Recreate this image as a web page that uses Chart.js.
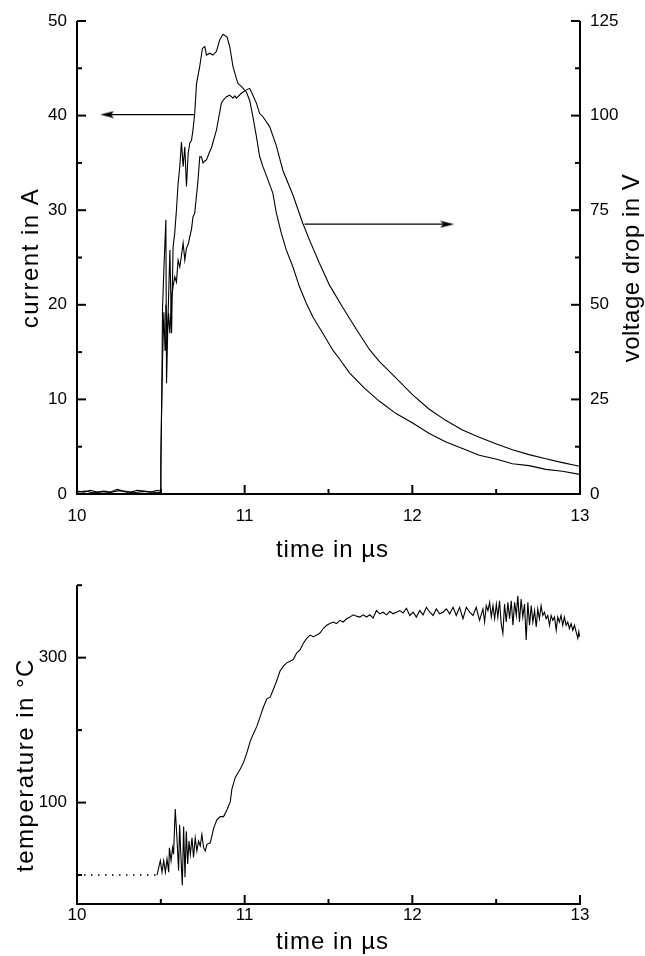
<!DOCTYPE html>
<html>
<head>
<meta charset="utf-8">
<script src="https://cdn.jsdelivr.net/npm/chart.js@4.4.0/dist/chart.umd.min.js"></script>
<style>
  body { margin: 0; background: #fff; }
  #top { position: absolute; left: 0; top: 0; }
  #bottom { position: absolute; left: 0; top: 565px; }
</style>
</head>
<body>
<canvas id="top" width="645" height="565"></canvas>
<canvas id="bottom" width="645" height="391"></canvas>
<script>
// current in A (left axis)
var currentTime = [10.000, 10.040, 10.080, 10.120, 10.160, 10.200, 10.240, 10.280, 10.320, 10.360, 10.400, 10.440, 10.480, 10.497,
  10.500, 10.506, 10.510, 10.518, 10.530, 10.534, 10.543, 10.554, 10.564, 10.573, 10.583, 10.593, 10.603, 10.613, 10.623,
  10.633, 10.643, 10.653, 10.663, 10.673, 10.683, 10.692, 10.702, 10.713, 10.732, 10.748, 10.762, 10.772, 10.792, 10.811,
  10.832, 10.851, 10.871, 10.895, 10.911, 10.921, 10.930, 10.951, 10.960, 10.980, 11.010, 11.030, 11.049, 11.070, 11.089,
  11.109, 11.139, 11.168, 11.189, 11.218, 11.248, 11.288, 11.327, 11.367, 11.407, 11.466, 11.526, 11.565, 11.625, 11.714,
  11.804, 11.903, 12.002, 12.101, 12.201, 12.299, 12.399, 12.498, 12.597, 12.696, 12.796, 12.895, 12.990, 13.000];
var currentValue = [0.3, 0.2, 0.4, 0.2, 0.3, 0.2, 0.5, 0.3, 0.2, 0.4, 0.3, 0.2, 0.4, 0.3,
  3.6, 11.0, 19.5, 23.7, 29.0, 11.7, 18.7, 25.8, 17.0, 26.1, 27.6, 30.0, 32.8, 34.6, 37.2,
  34.6, 36.7, 32.5, 36.0, 37.1, 37.4, 38.5, 40.2, 43.4, 45.2, 47.1, 47.3, 46.4, 46.6, 46.4,
  46.8, 48.0, 48.6, 48.3, 47.3, 46.2, 45.2, 43.9, 43.4, 43.1, 42.5, 41.6, 39.9, 37.8, 35.7,
  34.6, 33.2, 31.8, 29.7, 27.6, 25.8, 24.0, 21.9, 20.2, 18.7, 17.0, 15.2, 14.3, 12.8, 11.2,
  9.8, 8.5, 7.5, 6.4, 5.5, 4.8, 4.1, 3.7, 3.2, 3.0, 2.6, 2.4, 2.1, 2.1];

// voltage drop in V (right axis)
var voltageTime = [10.000, 10.050, 10.100, 10.150, 10.200, 10.250, 10.300, 10.350, 10.400, 10.450, 10.497,
  10.500, 10.504, 10.510, 10.518, 10.525, 10.530, 10.538, 10.546, 10.554, 10.564, 10.573, 10.583, 10.593, 10.603,
  10.613, 10.623, 10.633, 10.643, 10.653, 10.663, 10.673, 10.683, 10.692, 10.702, 10.713, 10.722, 10.732, 10.742,
  10.752, 10.762, 10.772, 10.792, 10.802, 10.832, 10.861, 10.871, 10.891, 10.911, 10.930, 10.941, 10.951, 10.980,
  11.010, 11.030, 11.049, 11.070, 11.089, 11.109, 11.149, 11.189, 11.228, 11.288, 11.347, 11.387, 11.446, 11.506,
  11.585, 11.665, 11.744, 11.804, 11.903, 12.002, 12.101, 12.201, 12.299, 12.399, 12.498, 12.597, 12.696, 12.796,
  12.895, 12.990, 13.000];
var voltageValue = [0.5, 0.8, 0.3, 0.6, 0.4, 0.9, 0.5, 0.4, 0.7, 0.5, 0.4,
  5, 20, 35, 48, 38, 50, 42, 47.8, 42.5, 52, 54.8, 57.4, 56, 61.8,
  60, 63, 66.3, 61.8, 65, 66, 68, 70, 73.3, 74.2, 79, 83, 89.1, 89.1,
  87.5, 88.0, 88.3, 90.5, 91.5, 96.2, 103.3, 104, 105, 105.4, 104.6, 105.2, 104.6, 105.9,
  106.8, 107.2, 105.4, 103.3, 100.6, 99.7, 97.1, 92.0, 85.5, 79.0, 71.5, 67.1, 61.0, 55.2,
  49.3, 43.6, 38.2, 35.0, 30.6, 26.2, 22.4, 19.4, 16.9, 15.0, 13.3, 11.7, 10.4, 9.3,
  8.3, 7.4, 7.3];

// temperature in °C
var tempBaseTime = [10.0, 10.477];
var tempBaseValue = [0, 0];
var tempTime = [10.477, 10.487, 10.497, 10.507, 10.517, 10.527, 10.537, 10.547, 10.551, 10.561, 10.570, 10.576, 10.586,
  10.596, 10.606, 10.612, 10.620, 10.628, 10.636, 10.644, 10.652, 10.660, 10.668, 10.676, 10.686, 10.695, 10.705,
  10.715, 10.725, 10.735, 10.745, 10.755, 10.765, 10.775, 10.795, 10.815, 10.834, 10.854, 10.874, 10.894, 10.914,
  10.924, 10.944, 10.973, 10.993, 11.013, 11.033, 11.053, 11.072, 11.092, 11.112, 11.132, 11.152, 11.172, 11.191,
  11.211, 11.231, 11.251, 11.271, 11.290, 11.310, 11.330, 11.350, 11.370, 11.390, 11.410, 11.430, 11.449,
  11.469, 11.489, 11.509, 11.528, 11.548, 11.568, 11.588, 11.608, 11.628, 11.647, 11.667, 11.687, 11.707, 11.727,
  11.747, 11.766, 11.786, 11.806, 11.826, 11.846, 11.866, 11.885, 11.905, 11.925, 11.945, 11.965, 11.985, 12.005,
  12.024, 12.044, 12.064, 12.084, 12.104, 12.124, 12.143, 12.163, 12.183, 12.203, 12.223, 12.243, 12.262, 12.282,
  12.302, 12.322, 12.342, 12.362, 12.381, 12.401, 12.421, 12.431, 12.441, 12.451, 12.461, 12.471, 12.481, 12.491,
  12.501, 12.510, 12.520, 12.530, 12.540, 12.550, 12.560, 12.570, 12.580, 12.590, 12.600, 12.610, 12.620, 12.629,
  12.639, 12.649, 12.659, 12.669, 12.679, 12.689, 12.699, 12.709, 12.719, 12.729, 12.739, 12.748, 12.758, 12.768,
  12.778, 12.788, 12.798, 12.808, 12.818, 12.828, 12.838, 12.848, 12.858, 12.867, 12.877, 12.887, 12.897, 12.907,
  12.917, 12.927, 12.937, 12.947, 12.957, 12.967, 12.977, 12.987, 12.993, 12.997];
var tempValue = [0, 10, 19.7, 3.9, 19.7, 3.9, 21.9, 3.9, 37.7, 19.7, 37.7, 28.7, 91.0,
  51.3, 6.1, 69.3, 24.2, -14.2, 67.1, -2.9, 60.3, 15.2, 46.8, 28.7, 51.3, 24.2, 51.3,
  33.2, 46.8, 40.0, 55.8, 37.7, 33.2, 42.3, 44.5, 64.8, 76.1, 80.6, 80.6, 89.7, 100.9,
  119.0, 134.8, 146.1, 155.1, 168.6, 184.4, 195.7, 204.8, 218.3, 231.8, 243.1, 245.4, 256.7, 268.0,
  281.5, 288.3, 292.8, 295.0, 297.3, 306.3, 310.8, 319.9, 326.6, 331.1, 328.9, 331.1, 334.0,
  340.2, 344.7, 347.0, 349.2, 347.0, 351.5, 349.2, 353.7, 356.0, 359.1, 357.3, 356.0, 359.1, 356.0,
  359.1, 354.6, 365.0, 360.5, 362.7, 359.1, 363.6, 360.5, 362.7, 365.0, 361.8, 368.2, 358.2, 362.7,
  356.0, 365.0, 359.1, 369.5, 362.7, 358.2, 367.3, 360.5, 362.7, 367.3, 360.5, 369.5, 358.2, 369.5,
  353.7, 369.5, 362.7, 358.2, 369.5, 351.5, 367.3, 349.2, 371.8, 365.0, 376.3, 356.0, 371.8, 353.7,
  374.0, 356.0, 378.5, 347.0, 333.4, 374.0, 349.2, 376.3, 353.7, 378.5, 344.7, 376.3, 358.2, 385.3,
  349.2, 380.8, 356.0, 374.0, 324.4, 376.3, 344.7, 371.8, 349.2, 365.0, 342.4, 367.3, 353.7, 371.8,
  358.2, 362.7, 353.7, 358.2, 344.7, 358.2, 351.5, 356.0, 337.9, 356.0, 349.2, 358.2, 344.7, 356.0,
  344.7, 349.2, 340.2, 347.0, 337.9, 344.7, 335.6, 326.6, 335.6, 328.9];

// axis ticks
var timeTicks = [10, 11, 12, 13];
var timeMinor = [10.5, 11.5, 12.5];
var currentTicks = [0, 10, 20, 30, 40, 50];
var currentMinor = [5, 15, 25, 35, 45];
var voltageTicks = [0, 25, 50, 75, 100, 125];
var voltageMinor = [12.5, 37.5, 62.5, 87.5, 112.5];
var tempTicks = [100, 300];
var tempMinor = [0, 200, 400];

// arrows pointing from the curves to their axes
var arrowCurrentTime = [10.702, 10.179];
var arrowCurrentValue = [40.1, 40.1];
var arrowVoltageTime = [11.357, 12.208];
var arrowVoltageValue = [71.3, 71.3];

var font = "'Liberation Sans', Arial, sans-serif";

function pts(xs, ys) {
  return xs.map(function (x, i) { return { x: x, y: ys[i] }; });
}

function arrowHead() {
  var c = document.createElement("canvas");
  c.width = 14; c.height = 8;
  var g = c.getContext("2d");
  g.fillStyle = "#000";
  g.beginPath();
  g.moveTo(14, 4); g.lineTo(0, 0.5); g.lineTo(3, 4); g.lineTo(0, 7.5);
  g.closePath();
  g.fill();
  return c;
}
var head = arrowHead();

function frame(axes) {
  return {
    id: "frame",
    afterDraw: function (chart) {
      var ctx = chart.ctx, a = chart.chartArea;
      ctx.save();
      ctx.strokeStyle = "#000";
      ctx.lineWidth = 2;
      axes.forEach(function (ax) {
        var s = chart.scales[ax.id];
        ctx.beginPath();
        if (ax.side === "bottom") { ctx.moveTo(a.left - 1, a.bottom); ctx.lineTo(a.right + 1, a.bottom); }
        else {
          var x0 = ax.side === "left" ? a.left : a.right;
          ctx.moveTo(x0, a.top); ctx.lineTo(x0, a.bottom + 1);
        }
        ctx.stroke();
        [[ax.major, 9], [ax.minor, 5]].forEach(function (m) {
          m[0].forEach(function (v) {
            var p = s.getPixelForValue(v);
            ctx.beginPath();
            if (ax.side === "bottom") { ctx.moveTo(p, a.bottom); ctx.lineTo(p, a.bottom - m[1]); }
            else if (ax.side === "left") { ctx.moveTo(a.left, p); ctx.lineTo(a.left + m[1], p); }
            else { ctx.moveTo(a.right, p); ctx.lineTo(a.right - m[1], p); }
            ctx.stroke();
          });
        });
      });
      ctx.restore();
    }
  };
}

// axis titles, drawn with a little letter spacing like the original
function titles(list) {
  return {
    id: "titles",
    afterDraw: function (chart) {
      var ctx = chart.ctx, a = chart.chartArea;
      list.forEach(function (t) {
        ctx.save();
        ctx.font = "24px " + font;
        ctx.fillStyle = "#000";
        ctx.letterSpacing = (t.spacing || 1.5) + "px";
        ctx.textAlign = "center";
        ctx.textBaseline = "middle";
        var x = t.x === undefined ? (a.left + a.right) / 2 + 4 : t.x;
        ctx.translate(x, t.y);
        if (t.vertical) ctx.rotate(-Math.PI / 2);
        ctx.fillText(t.text, 0, 0);
        ctx.restore();
      });
    }
  };
}

function ticks(pad) {
  return { color: "#000", font: { family: font, size: 17 }, padding: pad, autoSkip: false, maxRotation: 0 };
}
function setTicks(list) {
  return function (s) { s.ticks = list.map(function (v) { return { value: v }; }); };
}
var noGrid = { display: false, drawTicks: false };
var noBorder = { display: false };

function line(data, axis, extra) {
  var ds = { data: data, yAxisID: axis, borderColor: "#000", borderWidth: 1.1, pointRadius: 0, tension: 0, fill: false };
  for (var k in extra) ds[k] = extra[k];
  return ds;
}

new Chart(document.getElementById("top").getContext("2d"), {
  type: "line",
  data: {
    datasets: [
      line(pts(currentTime, currentValue), "y"),
      line(pts(voltageTime, voltageValue), "y1"),
      line(pts(arrowCurrentTime, arrowCurrentValue), "y", { borderWidth: 1.3, pointRadius: [0, 7], pointStyle: head, pointRotation: 180 }),
      line(pts(arrowVoltageTime, arrowVoltageValue), "y1", { borderWidth: 1.3, pointRadius: [0, 7], pointStyle: head })
    ]
  },
  options: {
    responsive: false,
    animation: false,
    layout: { padding: { top: 21, left: 0, right: 0, bottom: 0 } },
    plugins: { legend: { display: false }, tooltip: { enabled: false } },
    scales: {
      x: {
        type: "linear", min: 10, max: 13,
        grid: noGrid, border: noBorder, ticks: ticks(12),
        afterBuildTicks: setTicks(timeTicks),
        afterFit: function (s) { s.height = 71; }
      },
      y: {
        position: "left", min: 0, max: 50,
        grid: noGrid, border: noBorder, ticks: ticks(10),
        afterBuildTicks: setTicks(currentTicks),
        afterFit: function (s) { s.width = 77; }
      },
      y1: {
        position: "right", min: 0, max: 125,
        grid: noGrid, border: noBorder, ticks: ticks(10),
        afterBuildTicks: setTicks(voltageTicks),
        afterFit: function (s) { s.width = 65; }
      }
    }
  },
  plugins: [frame([
    { id: "x", side: "bottom", major: timeTicks, minor: timeMinor },
    { id: "y", side: "left", major: currentTicks, minor: currentMinor },
    { id: "y1", side: "right", major: voltageTicks, minor: voltageMinor }
  ]), titles([
    { text: "time in \u00b5s", y: 550, spacing: 1 },
    { text: "current in A", x: 31, y: 258, vertical: true },
    { text: "voltage drop in V", x: 632, y: 268, vertical: true, spacing: 0.5 }
  ])]
});

new Chart(document.getElementById("bottom").getContext("2d"), {
  type: "line",
  data: {
    datasets: [
      line(pts(tempBaseTime, tempBaseValue), "y", { borderWidth: 1.4, borderDash: [1.5, 5.5] }),
      line(pts(tempTime, tempValue), "y")
    ]
  },
  options: {
    responsive: false,
    animation: false,
    layout: { padding: { top: 15, left: 0, right: 65, bottom: 0 } },
    plugins: { legend: { display: false }, tooltip: { enabled: false } },
    scales: {
      x: {
        type: "linear", min: 10, max: 13,
        grid: noGrid, border: noBorder, ticks: ticks(1),
        afterBuildTicks: setTicks(timeTicks),
        afterFit: function (s) { s.height = 52; }
      },
      y: {
        position: "left", min: -40, max: 400,
        grid: noGrid, border: noBorder, ticks: ticks(10),
        afterBuildTicks: setTicks(tempTicks),
        afterFit: function (s) { s.width = 77; }
      }
    }
  },
  plugins: [frame([
    { id: "x", side: "bottom", major: timeTicks, minor: timeMinor },
    { id: "y", side: "left", major: tempTicks, minor: tempMinor }
  ]), titles([
    { text: "time in \u00b5s", y: 377, spacing: 1 },
    { text: "temperature in \u00b0C", x: 26, y: 200, vertical: true }
  ])]
});
</script>
</body>
</html>
